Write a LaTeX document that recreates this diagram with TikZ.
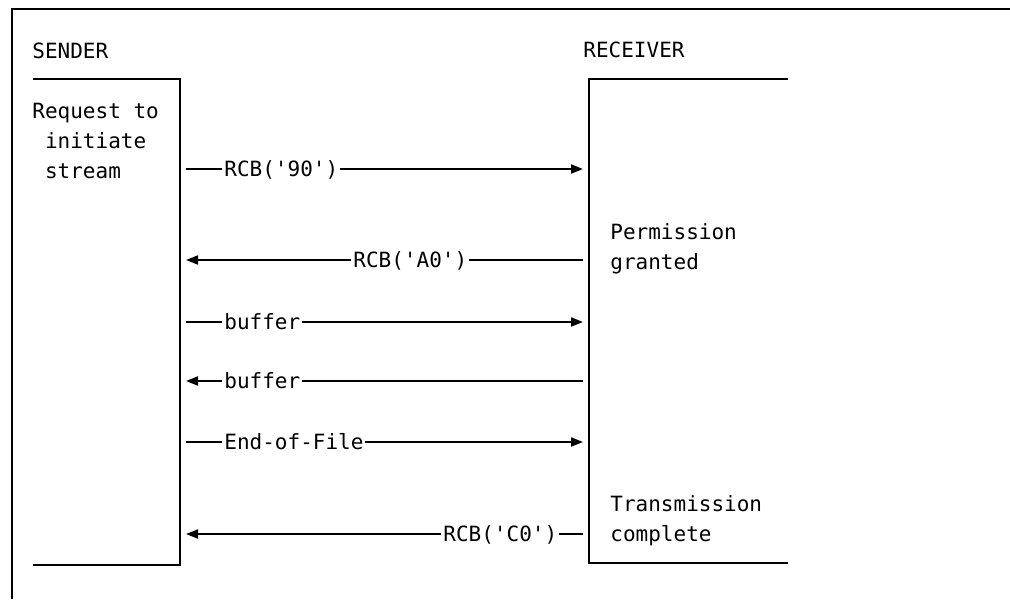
\documentclass[tikz,border=0pt]{standalone}
\usepackage{fontspec}
\newfontfamily\monofnt{DejaVu Sans Mono}
\usetikzlibrary{arrows.meta}
\begin{document}
\begin{tikzpicture}[x=0.5pt,y=-0.5pt,
  every node/.style={font=\monofnt\fontsize{10.5}{15}\selectfont, inner sep=0pt},
  frame/.style={line width=1pt},
  msg/.style={line width=0.9pt, -{Triangle[length=6pt,width=4.5pt]}},
  lbl/.style={fill=white, anchor=west, inner xsep=1pt, text height=7.6pt, text depth=0pt},
  txt/.style={anchor=north west, align=left}]
\useasboundingbox (0,0) rectangle (1010,599);
\fill[white] (0,0) rectangle (1010,599);
% outer frame
\draw[frame] (12,599) -- (12,9) -- (1010,9);
% titles
\node[anchor=west] (sender) at (32,51) {SENDER};
\node[anchor=west] (receiver) at (583,50) {RECEIVER};
% sender box (open left)
\draw[frame] (33,79) -- (180,79) -- (180,565) -- (33,565);
% receiver box (open right)
\draw[frame] (788,79) -- (589,79) -- (589,563) -- (788,563);
% box texts
\node[txt] (req) at (32,103) {Request to\\\phantom{R}initiate\\\phantom{R}stream};
\node[txt] (perm) at (610,223) {Permission\\granted};
\node[txt] (trans) at (610,495) {Transmission\\complete};
% endpoints
\foreach \i/\y in {1/169,2/260,3/322,4/381,5/442,6/534}{
  \coordinate (s\i) at (186,\y);
  \coordinate (r\i) at (583,\y);
}
% messages
\draw[msg] (s1) -- (r1);
\node[lbl] (m1) at (222,169) {RCB('90')};
\draw[msg] (r2) -- (s2);
\node[lbl] (m2) at (351,260) {RCB('A0')};
\draw[msg] (s3) -- (r3);
\node[lbl] (m3) at (222,322) {buffer};
\draw[msg] (r4) -- (s4);
\node[lbl] (m4) at (222,381) {buffer};
\draw[msg] (s5) -- (r5);
\node[lbl] (m5) at (222,442) {End-of-File};
\draw[msg] (r6) -- (s6);
\node[lbl] (m6) at (441,534) {RCB('C0')};
\end{tikzpicture}
\end{document}
